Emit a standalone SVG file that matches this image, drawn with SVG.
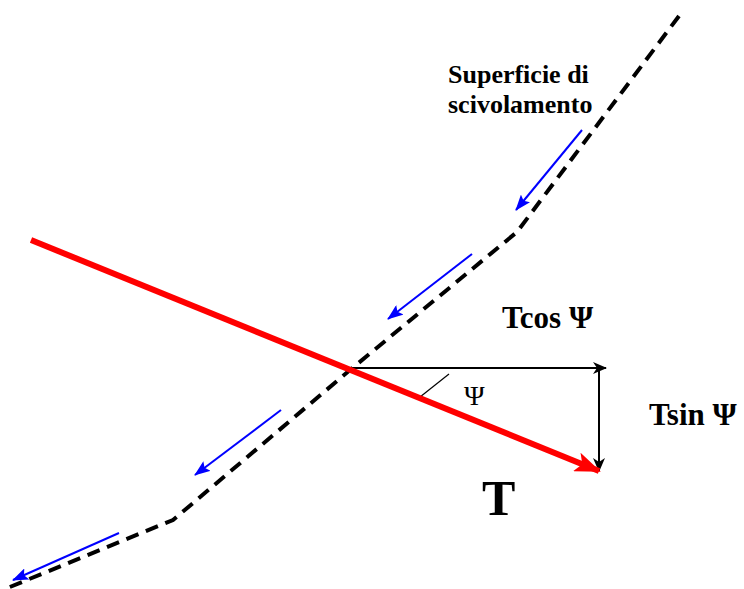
<svg xmlns="http://www.w3.org/2000/svg" width="744" height="589" viewBox="0 0 744 589">
<style>
.lbl{font-family:"Liberation Serif","Times New Roman",serif;font-weight:bold;fill:#000}
.blue{stroke:#0000ff;stroke-width:2;fill:none}
</style>
<defs>
<marker id="mb" markerWidth="16" markerHeight="12" refX="15" refY="6" orient="auto" markerUnits="userSpaceOnUse">
<path d="M0,0 L16,6 L0,12 L3,6 Z" fill="#0000ff"/>
</marker>
<marker id="mk" markerWidth="14" markerHeight="12" refX="13" refY="6" orient="auto" markerUnits="userSpaceOnUse">
<path d="M0,0 L14,6 L0,12 L4,6 Z" fill="#000"/>
</marker>
<marker id="mr" markerWidth="26" markerHeight="20" refX="24" refY="10" orient="auto" markerUnits="userSpaceOnUse">
<path d="M0,0 L26,10 L0,20 L6,10 Z" fill="#ff0000"/>
</marker>
</defs>
<g id="surface">
<polyline points="679,16 517,232 350,370 173,520 5,589" fill="none" stroke="#000" stroke-width="4" stroke-dasharray="13,8"/>
</g>
<g id="connectors">
<line class="blue" x1="582" y1="130" x2="516" y2="210" marker-end="url(#mb)"/>
<line class="blue" x1="472" y1="254" x2="388" y2="319" marker-end="url(#mb)"/>
<line class="blue" x1="281" y1="410" x2="195" y2="475" marker-end="url(#mb)"/>
<line class="blue" x1="119" y1="533" x2="13" y2="580" marker-end="url(#mb)"/>
<line x1="352" y1="368" x2="606" y2="368" stroke="#000" stroke-width="2" marker-end="url(#mk)"/>
<line x1="599" y1="368" x2="599" y2="471" stroke="#000" stroke-width="2" marker-end="url(#mk)"/>
<line x1="449" y1="374" x2="420" y2="397" stroke="#000" stroke-width="1.2"/>
<line x1="31" y1="240" x2="599" y2="471" stroke="#ff0000" stroke-width="6" marker-end="url(#mr)"/>
</g>
<g id="labels">
<text class="lbl" x="448" y="83" font-size="26">Superficie di</text>
<text class="lbl" x="448" y="113" font-size="26">scivolamento</text>
<text class="lbl" x="502" y="328" font-size="31">Tcos Ψ</text>
<text class="lbl" x="649" y="425" font-size="31">Tsin Ψ</text>
<text class="lbl" x="464" y="405" font-size="28" style="font-weight:normal">Ψ</text>
<text class="lbl" x="482" y="515" font-size="50">T</text>
</g>
</svg>
